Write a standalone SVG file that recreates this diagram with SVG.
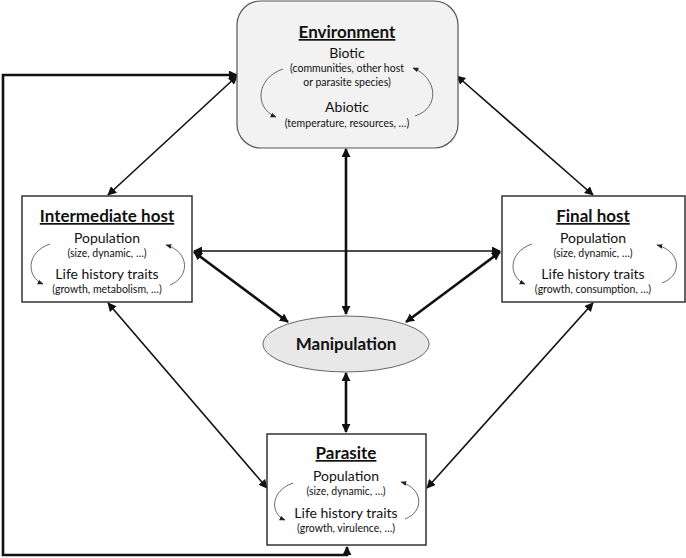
<svg xmlns="http://www.w3.org/2000/svg" width="686" height="558" viewBox="0 0 686 558">
<style>
text{font-family:Lato,"Open Sans","Liberation Sans",sans-serif;fill:#111;text-anchor:middle}
.t{font-size:17px;font-weight:bold;text-decoration:underline}
.m{font-size:14px}
.s{font-size:10.5px}
.box{fill:#fff;stroke:#333;stroke-width:1.5}
.arc{fill:none;stroke:#444;stroke-width:0.8;marker-end:url(#sa)}
.thin{fill:none;stroke:#111;stroke-width:1.6;marker-start:url(#a);marker-end:url(#a)}
.thick{fill:none;stroke:#111;stroke-width:2.6;marker-start:url(#a);marker-end:url(#a)}
</style>
<defs>
<marker id="a" viewBox="0 0 10 10" refX="9" refY="5" markerWidth="9" markerHeight="9" markerUnits="userSpaceOnUse" orient="auto-start-reverse"><path d="M0,0 L10,5 L0,10 Z" fill="#111"/></marker>
<marker id="sa" viewBox="0 0 10 10" refX="9" refY="5" markerWidth="6" markerHeight="6" markerUnits="userSpaceOnUse" orient="auto"><path d="M0,1 L10,5 L0,9 Z" fill="#222"/></marker>
</defs>
<g id="connectors">
<path class="thick" d="M237,75 H3 V555 H347 V547" style="marker-start:url(#a)"/>
<line class="thin" x1="237" y1="76" x2="108" y2="195"/>
<line class="thin" x1="457" y1="76" x2="593" y2="195"/>
<line class="thick" x1="346" y1="149" x2="346" y2="314"/>
<line class="thin" x1="194" y1="251" x2="500" y2="251"/>
<line class="thick" x1="194" y1="252" x2="288" y2="322"/>
<line class="thick" x1="500" y1="252" x2="406" y2="322"/>
<line class="thick" x1="346" y1="373" x2="346" y2="432"/>
<line class="thin" x1="108" y1="303" x2="267" y2="488"/>
<line class="thin" x1="593" y1="303" x2="427" y2="488"/>
</g>
<g id="environment">
<rect x="237" y="1" width="221" height="147" rx="24" fill="#f2f2f2" stroke="#555" stroke-width="1.2"/>
<text class="t" x="347" y="38">Environment</text>
<text class="m" x="347" y="58">Biotic</text>
<text class="s" x="347" y="72">(communities, other host</text>
<text class="s" x="347" y="86">or parasite species)</text>
<text class="m" x="347" y="112">Abiotic</text>
<text class="s" x="347" y="127">(temperature, resources, …)</text>
<path class="arc" d="M283,69 C256,78 254,108 276,117"/>
<path class="arc" d="M415,116 C440,108 438,78 413,68"/>
</g>
<g id="intermediate-host">
<rect class="box" x="22" y="196" width="170" height="106"/>
<text class="t" x="107" y="222">Intermediate host</text>
<text class="m" x="107" y="243">Population</text>
<text class="s" x="107" y="257">(size, dynamic, …)</text>
<text class="m" x="107" y="279">Life history traits</text>
<text class="s" x="107" y="293">(growth, metabolism, …)</text>
<path class="arc" d="M50,244 C26,252 26,277 43,284"/>
<path class="arc" d="M170,285 C190,277 190,252 166,245"/>
</g>
<g id="final-host">
<rect class="box" x="502" y="196" width="183" height="106"/>
<text class="t" x="593" y="222">Final host</text>
<text class="m" x="593" y="243">Population</text>
<text class="s" x="593" y="257">(size, dynamic, …)</text>
<text class="m" x="593" y="279">Life history traits</text>
<text class="s" x="593" y="293">(growth, consumption, …)</text>
<path class="arc" d="M532,244 C508,252 508,277 525,284"/>
<path class="arc" d="M662,283 C682,276 682,252 657,245"/>
</g>
<g id="manipulation">
<ellipse cx="346" cy="344" rx="83" ry="28" fill="#e8e8e8" stroke="#666" stroke-width="1"/>
<text x="346" y="350" style="font-size:17px;font-weight:bold">Manipulation</text>
</g>
<g id="parasite">
<rect class="box" x="267" y="434" width="159" height="111"/>
<text class="t" x="346" y="459">Parasite</text>
<text class="m" x="346" y="481">Population</text>
<text class="s" x="346" y="495">(size, dynamic, …)</text>
<text class="m" x="346" y="518">Life history traits</text>
<text class="s" x="346" y="532">(growth, virulence, …)</text>
<path class="arc" d="M293,483 C270,491 270,514 285,520"/>
<path class="arc" d="M405,519 C424,512 424,489 401,482"/>
</g>
</svg>
